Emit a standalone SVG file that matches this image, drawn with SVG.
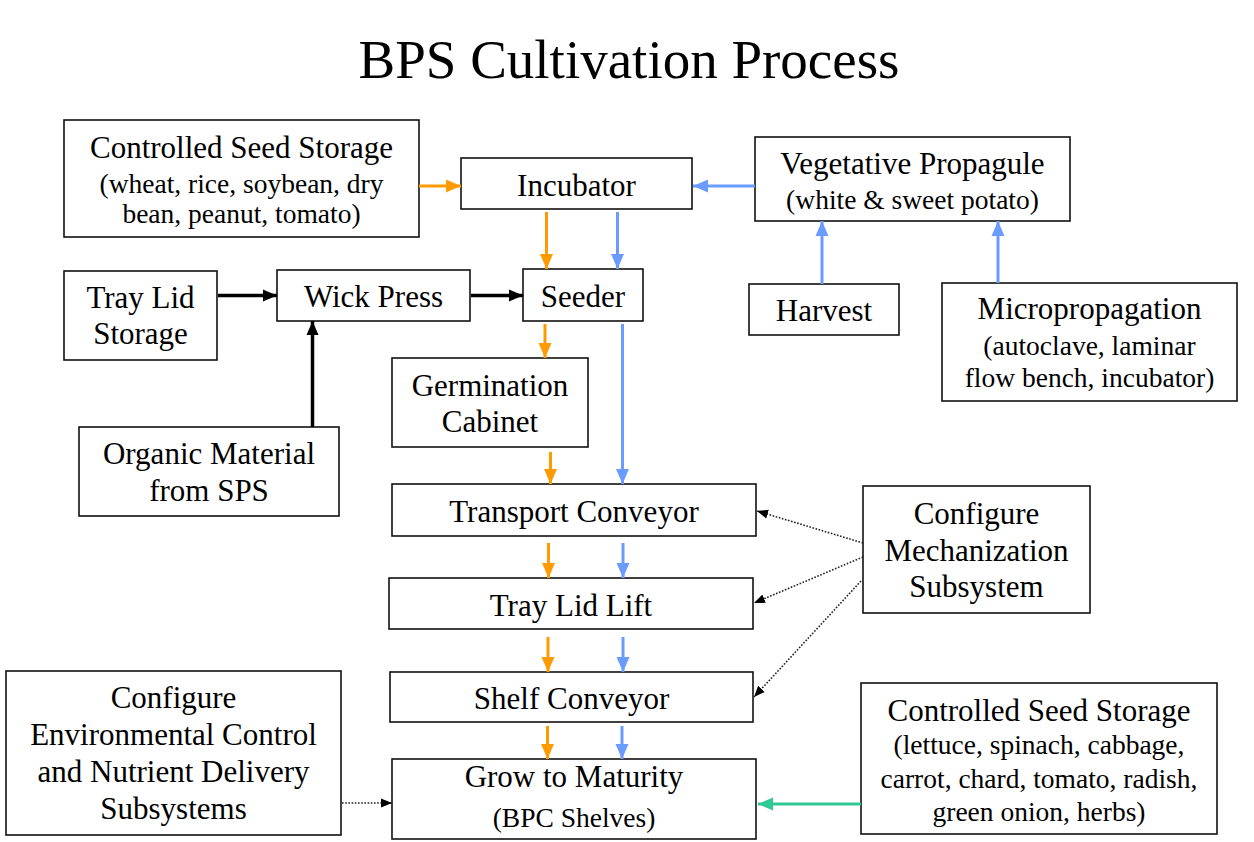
<svg xmlns="http://www.w3.org/2000/svg" width="1254" height="842" viewBox="0 0 1254 842">
<style>
  .box { fill: #ffffff; stroke: #111111; stroke-width: 1.6; }
  text { font-family: "Liberation Serif", "Times New Roman", serif; fill: #000000; text-anchor: middle; }
  .t { font-size: 31px; }
  .s { font-size: 27.5px; }
  .title { font-size: 55px; }
  .or { stroke: #FF9A00; stroke-width: 3; fill: none; }
  .bl { stroke: #6A9BFF; stroke-width: 3; fill: none; }
  .gr { stroke: #2FC994; stroke-width: 3.2; fill: none; }
  .bk { stroke: #000000; stroke-width: 3.5; fill: none; }
  .dt { stroke: #222222; stroke-width: 1.6; stroke-dasharray: 1.6 1.6; fill: none; }
</style>
<defs>
  <marker id="mOr" markerUnits="userSpaceOnUse" markerWidth="15" markerHeight="15" viewBox="0 0 15 15" refX="15" refY="7.5" orient="auto">
    <path d="M0,1 L15,7.5 L0,14 Z" fill="#FF9A00"/>
  </marker>
  <marker id="mBl" markerUnits="userSpaceOnUse" markerWidth="15" markerHeight="15" viewBox="0 0 15 15" refX="15" refY="7.5" orient="auto">
    <path d="M0,1 L15,7.5 L0,14 Z" fill="#6A9BFF"/>
  </marker>
  <marker id="mGr" markerUnits="userSpaceOnUse" markerWidth="15" markerHeight="15" viewBox="0 0 15 15" refX="15" refY="7.5" orient="auto">
    <path d="M0,1 L15,7.5 L0,14 Z" fill="#2FC994"/>
  </marker>
  <marker id="mBk" markerUnits="userSpaceOnUse" markerWidth="14" markerHeight="14" viewBox="0 0 14 14" refX="14" refY="7" orient="auto">
    <path d="M0,1 L14,7 L0,13 Z" fill="#000000"/>
  </marker>
  <marker id="mDt" markerUnits="userSpaceOnUse" markerWidth="11" markerHeight="11" viewBox="0 0 11 11" refX="11" refY="5.5" orient="auto">
    <path d="M0,1 L11,5.5 L0,10 Z" fill="#000000"/>
  </marker>
</defs>

<text class="title" x="629" y="78">BPS Cultivation Process</text>

<g id="css1">
  <rect class="box" x="64" y="120" width="355" height="117"/>
  <text class="t" x="241.5" y="158">Controlled Seed Storage</text>
  <text class="s" x="241.5" y="193">(wheat, rice, soybean, dry</text>
  <text class="s" x="241.5" y="223">bean, peanut, tomato)</text>
</g>
<g id="incubator">
  <rect class="box" x="461" y="158" width="231" height="51"/>
  <text class="t" x="576.5" y="196">Incubator</text>
</g>
<g id="vegetative">
  <rect class="box" x="755" y="137" width="315" height="84"/>
  <text class="t" x="912.5" y="174">Vegetative Propagule</text>
  <text class="s" x="912.5" y="209">(white &amp; sweet potato)</text>
</g>
<g id="traylidstorage">
  <rect class="box" x="64" y="271" width="153" height="89"/>
  <text class="t" x="140.5" y="308">Tray Lid</text>
  <text class="t" x="140.5" y="344">Storage</text>
</g>
<g id="wickpress">
  <rect class="box" x="277" y="270" width="193" height="51"/>
  <text class="t" x="373.5" y="307">Wick Press</text>
</g>
<g id="seeder">
  <rect class="box" x="523" y="269" width="120" height="52"/>
  <text class="t" x="583" y="307">Seeder</text>
</g>
<g id="harvest">
  <rect class="box" x="749" y="284" width="150" height="51"/>
  <text class="t" x="824" y="321">Harvest</text>
</g>
<g id="micro">
  <rect class="box" x="942" y="283" width="295" height="118"/>
  <text class="t" x="1089.5" y="319">Micropropagation</text>
  <text class="s" x="1089.5" y="355">(autoclave, laminar</text>
  <text class="s" x="1089.5" y="387">flow bench, incubator)</text>
</g>
<g id="germination">
  <rect class="box" x="392" y="358" width="196" height="89"/>
  <text class="t" x="490" y="396">Germination</text>
  <text class="t" x="490" y="432">Cabinet</text>
</g>
<g id="organic">
  <rect class="box" x="79" y="427" width="260" height="89"/>
  <text class="t" x="209" y="464">Organic Material</text>
  <text class="t" x="209" y="501">from SPS</text>
</g>
<g id="transport">
  <rect class="box" x="392" y="484" width="364" height="52"/>
  <text class="t" x="574" y="522">Transport Conveyor</text>
</g>
<g id="mech">
  <rect class="box" x="863" y="486" width="227" height="127"/>
  <text class="t" x="976.5" y="524">Configure</text>
  <text class="t" x="976.5" y="561">Mechanization</text>
  <text class="t" x="976.5" y="597">Subsystem</text>
</g>
<g id="traylidlift">
  <rect class="box" x="389" y="578" width="364" height="51"/>
  <text class="t" x="571" y="616">Tray Lid Lift</text>
</g>
<g id="shelf">
  <rect class="box" x="390" y="672" width="363" height="50"/>
  <text class="t" x="571.5" y="709">Shelf Conveyor</text>
</g>
<g id="env">
  <rect class="box" x="6" y="671" width="335" height="164"/>
  <text class="t" x="173.5" y="708">Configure</text>
  <text class="t" x="173.5" y="745">Environmental Control</text>
  <text class="t" x="173.5" y="782">and Nutrient Delivery</text>
  <text class="t" x="173.5" y="819">Subsystems</text>
</g>
<g id="grow">
  <rect class="box" x="392" y="759" width="364" height="80"/>
  <text class="t" x="574" y="787">Grow to Maturity</text>
  <text class="s" x="574" y="827">(BPC Shelves)</text>
</g>
<g id="css2">
  <rect class="box" x="861" y="683" width="356" height="151"/>
  <text class="t" x="1039" y="721">Controlled Seed Storage</text>
  <text class="s" x="1039" y="754">(lettuce, spinach, cabbage,</text>
  <text class="s" x="1039" y="788">carrot, chard, tomato, radish,</text>
  <text class="s" x="1039" y="821">green onion, herbs)</text>
</g>

<g id="connectors">
  <line class="or" x1="419" y1="186" x2="461" y2="186" marker-end="url(#mOr)"/>
  <line class="bl" x1="755" y1="186" x2="693" y2="186" marker-end="url(#mBl)"/>
  <line class="or" x1="546.5" y1="212" x2="546.5" y2="269" marker-end="url(#mOr)"/>
  <line class="bl" x1="617.5" y1="212" x2="617.5" y2="269" marker-end="url(#mBl)"/>
  <line class="bk" x1="218" y1="295.5" x2="277" y2="295.5" marker-end="url(#mBk)"/>
  <line class="bk" x1="471" y1="295.5" x2="523" y2="295.5" marker-end="url(#mBk)"/>
  <line class="bk" x1="312.5" y1="427" x2="312.5" y2="321" marker-end="url(#mBk)"/>
  <line class="bl" x1="822" y1="284" x2="822" y2="221" marker-end="url(#mBl)"/>
  <line class="bl" x1="998" y1="283" x2="998" y2="221" marker-end="url(#mBl)"/>
  <line class="or" x1="545" y1="324" x2="545" y2="358" marker-end="url(#mOr)"/>
  <line class="bl" x1="622.5" y1="324" x2="622.5" y2="484" marker-end="url(#mBl)"/>
  <line class="or" x1="550.5" y1="452" x2="550.5" y2="484" marker-end="url(#mOr)"/>
  <line class="or" x1="548.5" y1="543" x2="548.5" y2="578" marker-end="url(#mOr)"/>
  <line class="bl" x1="623" y1="543" x2="623" y2="578" marker-end="url(#mBl)"/>
  <line class="or" x1="548" y1="637" x2="548" y2="672" marker-end="url(#mOr)"/>
  <line class="bl" x1="623" y1="637" x2="623" y2="672" marker-end="url(#mBl)"/>
  <line class="or" x1="547.5" y1="726" x2="547.5" y2="759" marker-end="url(#mOr)"/>
  <line class="bl" x1="622" y1="726" x2="622" y2="759" marker-end="url(#mBl)"/>
  <line class="dt" x1="863" y1="543" x2="757" y2="511" marker-end="url(#mDt)"/>
  <line class="dt" x1="863" y1="557" x2="754" y2="603" marker-end="url(#mDt)"/>
  <line class="dt" x1="861" y1="581" x2="754" y2="697" marker-end="url(#mDt)"/>
  <line class="dt" x1="342" y1="803" x2="392" y2="803" marker-end="url(#mDt)"/>
  <line class="gr" x1="861" y1="804" x2="758" y2="804" marker-end="url(#mGr)"/>
</g>
</svg>
